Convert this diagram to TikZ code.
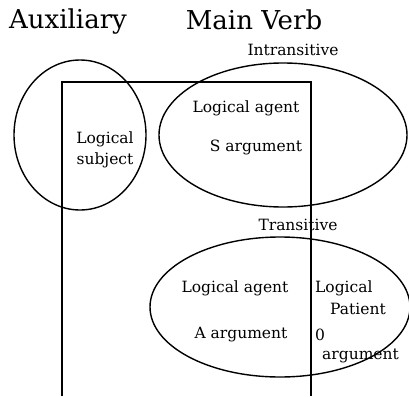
\documentclass[tikz,border=0pt]{standalone}
\usepackage{fontspec}
\setmainfont{DejaVu Serif}
\usetikzlibrary{positioning}
\tikzset{big/.style={font=\fontsize{26}{28}\selectfont},
 lab/.style={font=\fontsize{15.5}{18}\selectfont,align=left,inner sep=0pt},
 ring/.style={draw=black,line width=1.4pt},
 frame/.style={draw=black,line width=2.4pt}}
\begin{document}
\begin{tikzpicture}[x=1pt,y=-1pt]
\useasboundingbox (0,0) rectangle (409,396);
\node[big] (aux) at (68,22){Auxiliary};
\node[big] (mv) at (254,20){Main Verb};
\node[lab] (intr) at (293,50){Intransitive};
\node[lab] (tr) at (298,225){Transitive};
% the verb box, open at the bottom
\draw[frame] (62,396)--(62,82)--(311,82)--(311,396);
% circles
\draw[ring] (80,135) ellipse (66 and 75);
\draw[ring] (283,135) ellipse (124 and 72);
\draw[ring] (280,307) ellipse (130 and 70);
\node[lab,align=center] (subj) at (105,150){Logical\\[3pt]subject};
\node[lab] (ag1) at (246,108){Logical agent};
\node[lab] (sarg) at (256,147){S argument};
\node[lab] (ag2) at (235,288){Logical agent};
\node[lab] (aarg) at (241,335){A argument};
\node[lab,anchor=west] (pat1) at (315,288){Logical};
\node[lab,anchor=west] (pat2) at (330,309){Patient};
\node[lab,anchor=west] (oarg1) at (315,335){0};
\node[lab,anchor=west] (oarg2) at (322,356){argument};
\end{tikzpicture}
\end{document}
